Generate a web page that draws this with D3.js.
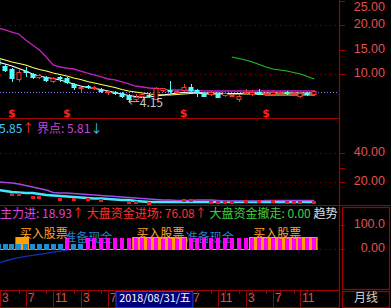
<!DOCTYPE html>
<html><head><meta charset="utf-8">
<script src="https://cdn.jsdelivr.net/npm/d3@7"></script>
<style>body{margin:0;background:#000;}svg{display:block;}</style>
</head><body>
<svg id="c" width="391" height="308"></svg>
<script>
// ---- data ----
const openP  = [12.86,11.63,11.02,8.78,10.61,10.00,9.18,9.39,8.37,9.39,9.18,7.96,7.14,7.55,6.94,6.94,6.12,6.33,6.12,5.71,4.69,5.31,5.71,4.69,6.53,6.73,6.33,6.53,7.35,6.73,6.12,5.71,5.92,5.51,5.51,4.69,6.12,5.71,6.33,5.71,5.71,5.92,6.33,5.71,5.31,6.12,5.71];
const highP  = [13.27,12.04,11.22,11.02,11.43,10.20,10.00,9.59,9.39,9.59,9.39,8.16,7.35,7.76,7.55,7.14,6.53,6.53,6.33,5.92,5.92,6.12,6.12,7.35,7.14,8.57,6.73,7.96,7.96,6.94,6.33,6.53,6.12,6.33,5.92,5.71,6.94,6.73,6.94,6.33,6.53,6.53,6.53,6.33,6.33,6.33,6.73];
const lowP   = [11.63,10.41,8.37,8.37,9.39,8.98,8.98,8.37,8.16,8.37,7.96,6.73,6.33,6.94,6.73,6.12,5.71,5.71,5.10,4.15,4.29,5.10,5.10,4.69,6.33,6.12,6.12,6.33,6.33,5.31,5.31,5.51,5.10,5.31,5.31,4.29,5.92,5.51,5.71,5.71,5.51,5.71,5.71,5.51,5.10,5.51,5.51];
const closeP = [11.84,10.61,8.98,10.41,10.20,9.18,9.80,8.57,9.18,8.98,8.16,7.14,7.35,7.14,7.35,6.33,6.53,5.92,5.31,4.69,5.31,5.92,5.31,7.14,7.14,6.33,6.53,7.35,6.53,6.12,5.31,6.33,5.10,6.12,5.71,5.51,6.33,6.33,5.71,6.12,6.33,6.33,5.92,6.12,6.12,5.71,6.53];
const maPurple = [19.39,18.98,18.57,18.16,16.94,15.92,14.90,13.47,11.84,11.43,11.22,11.02,10.61,10.20,9.80,9.39,8.98,8.78,8.37,7.96,7.55,7.35,7.14,7.04,6.94,6.73,6.73,6.73,6.63,6.63,6.53,6.53,6.53,6.53,6.53,6.53,6.53,6.53,6.53,6.53,6.53,6.53,6.53,6.53,6.53,6.53,6.53];
const maYellow = [13.27,12.86,12.45,12.14,11.84,11.33,10.92,10.61,10.20,9.90,9.59,9.18,8.88,8.47,8.16,7.86,7.55,7.24,6.84,6.53,6.33,6.12,5.92,5.82,5.71,5.71,5.82,5.92,6.02,6.12,5.92,5.92,5.92,5.92,5.92,5.92,5.92,5.92,5.92,5.71,5.71,5.71,5.71,5.71,5.71,5.71,5.71];
const maWhite  = [12.45,12.04,11.63,11.12,10.61,10.00,9.59,9.29,9.08,8.78,8.37,7.96,7.55,7.24,7.04,6.84,6.53,6.22,5.92,5.61,5.41,5.20,5.31,5.51,5.71,5.92,6.12,6.22,6.33,6.22,6.12,6.12,6.12,6.02,6.02,6.02,6.12,6.12,6.12,6.12,6.12,6.12,6.12,6.12,6.12,6.12,6.12];
const maGreen  = [null,null,null,null,null,null,null,null,null,null,null,null,null,null,null,null,null,null,null,null,null,null,null,null,null,null,null,null,null,null,null,null,null,null,13.47,13.16,12.86,12.45,11.94,11.43,11.02,10.82,10.61,10.31,10.00,9.49,8.98];
const refLevel = 6.3;
const lowMark = {i:19, v:4.15};
const sellIdx = [2,10,27,39];
const priceTicks = [25,20,15,10];
const priceGrid = [20,10];

const midPurple = [20.0,19.7,19.3,18.6,17.6,16.6,15.5,14.5,12.8,12.4,12.4,12.1,11.7,11.4,11.0,10.7,10.3,10.0,9.7,9.3,9.0,8.6,8.3,7.9,7.6,7.6,7.2,7.2,7.2,7.6,7.6,7.6,7.2,6.9,6.9,6.9,6.9,6.9,6.9,7.2,7.2,7.2,7.2,7.2,7.2,7.2,7.2];
const midCyan   = [14.5,13.8,13.1,12.8,12.4,12.4,11.7,11.0,10.7,10.3,10.0,9.7,9.3,9.0,8.6,8.6,8.3,7.9,7.6,7.6,6.9,6.6,6.2,6.2,6.2,6.2,6.2,6.2,6.2,6.2,6.2,6.2,6.2,6.2,6.2,6.2,6.2,6.2,6.2,6.2,6.2,6.2,6.2,6.2,6.2,6.2,6.2];
const midRed    = [null,null,11.7,11.7,null,9.7,9.7,null,null,8.3,null,8.3,null,8.3,null,7.6,null,null,null,6.2,6.2,null,5.5,null,null,null,null,7.6,7.6,null,null,6.2,6.2,6.2,6.2,null,7.2,null,7.2,null,7.2,null,6.2,6.2,6.2,null,6.2];
const midTicks = [40,20];

const barType = ["c","c","c","c","c","c","c","c","c","c","m","c","c","m","m","m","m","m","m","m","m","m","m","m","m","m","m","m","m","m","m","m","m","m","m","m","m","m","m","m","m","m","m","m","m","m","m"];
const barTop = {c:21, m:46};
const barBase = -4;
const buyStart = [3,20,37];
const buyEnd   = [4,27,46];
const buyTop = 50;
const prepIdx = [9.6,27.3];
const botBlue = [-58,-50,-42,-36,-31,-27,-22,-18,-13,-9,-6];
const botTicks = [100,0];
const botTickLabels = ["100.0","0.00"];

const monthLabelIdx = [0,4,8,12,16,20,24,28,32,36,40,44];
const monthLabels = ["3","7","11","3","7","11","3","7","11","3","7","11"];
const cursorDate = "2018/08/31/五";
const cursorFrom = 17, cursorTo = 28;

// ---- layout ----
const W=391,H=308, PR=339;
const RED="#a00000", AX="#e05050", FONT="'Noto Sans CJK SC','Noto Sans',sans-serif", NUMF="'Liberation Sans',Arial,sans-serif";
const svg=d3.select("#c");
svg.append("rect").attr("width",W).attr("height",H).attr("fill","#000");
const defs=svg.append("defs");
defs.append("clipPath").attr("id","cp1").append("rect").attr("x",0).attr("y",0).attr("width",PR).attr("height",118);
defs.append("clipPath").attr("id","cpAll").append("rect").attr("x",0).attr("y",0).attr("width",PR).attr("height",290);

const n=openP.length;
const x=d3.scalePoint().domain(d3.range(n)).range([-1.8,314.2]);
const step=x.step();
const xf=v=>x(0)+v*step; // fractional index position
const y1=d3.scaleLinear().domain([10,20]).range([74,25]);
const y2=d3.scaleLinear().domain([20,40]).range([182,153]);
const y3=d3.scaleLinear().domain([0,100]).range([249,225]);

// grids
const g=svg.append("g").attr("clip-path","url(#cpAll)");
priceGrid.forEach(v=>g.append("line").attr("x1",0).attr("x2",PR).attr("y1",Math.round(y1(v))+.5).attr("y2",Math.round(y1(v))+.5).attr("stroke",RED).attr("stroke-dasharray","1,4"));
midTicks.forEach(v=>g.append("line").attr("x1",0).attr("x2",PR).attr("y1",Math.round(y2(v))+.5).attr("y2",Math.round(y2(v))+.5).attr("stroke",RED).attr("stroke-dasharray","1,4"));
g.append("line").attr("x1",0).attr("x2",PR).attr("y1",Math.round(y3(0))+.5).attr("y2",Math.round(y3(0))+.5).attr("stroke",RED).attr("stroke-dasharray","1,4");

// top panel
const t=svg.append("g").attr("clip-path","url(#cp1)");
t.append("line").attr("x1",0).attr("x2",PR).attr("y1",Math.round(y1(refLevel))+.5).attr("y2",Math.round(y1(refLevel))+.5).attr("stroke","#8f70ff").attr("stroke-dasharray","1,2");
const line1=d3.line().defined(d=>d!=null).x((d,i)=>x(i)).y(d=>y1(d));
t.append("path").attr("d",line1(maPurple)).attr("fill","none").attr("stroke","#c020c0").attr("stroke-width",1.3);
t.append("path").attr("d",line1(maYellow)).attr("fill","none").attr("stroke","#ffff50").attr("stroke-width",1.2);
t.append("path").attr("d",line1(maWhite)).attr("fill","none").attr("stroke","#ffffff").attr("stroke-width",1.2);
t.append("path").attr("d",line1(maGreen)).attr("fill","none").attr("stroke","#20c020").attr("stroke-width",1.2);
const cw=5;
d3.range(n).forEach(i=>{
  const up=closeP[i]>=openP[i];
  const col=up?"#ff3232":"#54fcfc";
  const cx=Math.round(x(i))+.5;
  const top=Math.round(y1(Math.max(openP[i],closeP[i])));
  const bot=Math.round(y1(Math.min(openP[i],closeP[i])));
  t.append("line").attr("x1",cx).attr("x2",cx).attr("y1",y1(highP[i])).attr("y2",y1(lowP[i])).attr("stroke",col);
  if(up){
    t.append("rect").attr("x",cx-cw/2).attr("y",top+.5).attr("width",cw-1).attr("height",Math.max(1,bot-top-1)).attr("fill","#000").attr("stroke",col);
  } else {
    t.append("rect").attr("x",cx-cw/2-.5).attr("y",top).attr("width",cw).attr("height",Math.max(1,bot-top)).attr("fill",col);
  }
});
t.append("text").attr("x",x(lowMark.i)-1).attr("y",y1(lowMark.v)+1.5).attr("dominant-baseline","middle").attr("fill","#c8c8c8").attr("font-family",FONT).attr("font-size",12).text("←"+lowMark.v.toFixed(2));
sellIdx.forEach(i=>t.append("text").attr("x",x(i)).attr("y",117).attr("text-anchor","middle").attr("fill","#ff2020").attr("font-family","DejaVu Sans").attr("font-weight","bold").attr("font-size",11).text("$"));

// middle panel
const m=svg.append("g").attr("clip-path","url(#cpAll)");
const line2=d3.line().x((d,i)=>x(i)).y(d=>y2(d));
m.append("path").attr("d",line2(midCyan)).attr("fill","none").attr("stroke","#40e8ff").attr("stroke-width",2.5);
m.append("path").attr("d",line2(midPurple)).attr("fill","none").attr("stroke","#a048e0").attr("stroke-width",1.5);
midRed.forEach((v,i)=>{ if(v!=null) m.append("rect").attr("x",Math.round(x(i))-2).attr("y",Math.round(y2(v))-1).attr("width",4).attr("height",3).attr("fill","#e02020"); });

// bottom panel
const b=svg.append("g").attr("clip-path","url(#cpAll)");
b.append("line").attr("x1",0).attr("x2",x(n-1)+step/2).attr("y1",Math.round(y3(0))+.5).attr("y2",Math.round(y3(0))+.5).attr("stroke","#b0b0b0");
buyStart.forEach((s,k)=>b.append("rect").attr("x",x(s)-step/2).attr("y",y3(buyTop)).attr("width",x(buyEnd[k])-x(s)+step).attr("height",y3(barBase)-y3(buyTop)).attr("fill","#ffa000"));
prepIdx.forEach(i=>b.append("text").attr("x",xf(i)).attr("y",242).attr("fill","#2a7fc8").attr("font-family",FONT).attr("font-size",12).text("准备现金"));
barType.forEach((tp,i)=>{
  const w=tp==="c"?5:4;
  b.append("rect").attr("x",Math.round(x(i)-w/2)).attr("y",Math.round(y3(barTop[tp]))).attr("width",w).attr("height",Math.round(y3(barBase))-Math.round(y3(barTop[tp]))).attr("fill",tp==="c"?"#1e8ed0":"#ff00ff");
});
b.append("path").attr("d",d3.line().x((d,i)=>x(i)).y(d=>y3(d))(botBlue)).attr("fill","none").attr("stroke","#1030c0").attr("stroke-width",1.3);
buyStart.forEach(s=>b.append("text").attr("x",x(s)+1).attr("y",238).attr("fill","#ffa030").attr("font-family",FONT).attr("font-size",12).text("买入股票"));

// label rows
const r1=svg.append("text").attr("x",-1).attr("y",133).attr("font-family",FONT).attr("font-size",12).attr("clip-path","url(#cpAll)");
[["5.85","#40c8ff"],["↑","#ff3030"],[" 界点: 5.81","#d040d0"],["↓","#40c8ff"]].forEach(([s,c])=>r1.append("tspan").attr("fill",c).text(s));
const r2=svg.append("text").attr("x",0).attr("y",218).attr("font-family",FONT).attr("font-size",12).attr("clip-path","url(#cpAll)");
[["主力进: 18.93","#e040e0"],["↑","#ff3030"],[" 大盘资金进场: 76.08","#ff3030"],["↑","#ff3030"],[" 大盘资金撤走: 0.00","#40d040"],[" 趋势","#e0e0e0"]].forEach(([s,c])=>r2.append("tspan").attr("fill",c).text(s));

// frame lines
const fl=(x1,y1_,x2,y2_)=>svg.append("line").attr("x1",x1).attr("y1",y1_).attr("x2",x2).attr("y2",y2_).attr("stroke",RED).attr("stroke-width",1.2);
fl(0,118.5,PR,118.5);
fl(0,205.5,W,205.5);
fl(0,290.5,PR,290.5);
fl(0,307.5,PR,307.5);
fl(PR+.5,0,PR+.5,H);
svg.append("rect").attr("x",342.5).attr("y",207.5).attr("width",47).attr("height",82).attr("fill","none").attr("stroke",RED).attr("stroke-width",1.2);
svg.append("rect").attr("x",342.5).attr("y",291.5).attr("width",47).attr("height",16).attr("fill","none").attr("stroke",RED).attr("stroke-width",1.2);

// right axis
const tick=(yy,label,ly)=>{
  svg.append("line").attr("x1",PR).attr("x2",PR+6).attr("y1",Math.round(yy)+.5).attr("y2",Math.round(yy)+.5).attr("stroke",RED);
  if(label) svg.append("text").attr("x",385).attr("y",ly==null?yy:ly).attr("dominant-baseline","middle").attr("text-anchor","end").attr("fill",AX).attr("font-family",NUMF).attr("font-size",12.5).text(label);
};
priceTicks.forEach(v=>tick(y1(v),v.toFixed(2),Math.max(8,y1(v))));
midTicks.forEach(v=>tick(y2(v),v.toFixed(2)));
tick(y2(30),null);
botTicks.forEach((v,k)=>tick(y3(v),botTickLabels[k]));

// date axis
const bx0=x(cursorFrom)+1, bx1=x(cursorTo)+step*0.35;
monthLabelIdx.forEach((i,k)=>{
  const xx=Math.max(0,Math.round(x(i)))+.5;
  svg.append("line").attr("x1",xx).attr("x2",xx).attr("y1",291).attr("y2",307).attr("stroke",RED);
  if(xx+2>=bx0-4 && xx+2<=bx1) return;
  svg.append("text").attr("x",xx+1.5).attr("y",299).attr("dominant-baseline","middle").attr("fill",AX).attr("font-family",NUMF).attr("font-size",12).text(monthLabels[k]);
});
d3.range(n).filter(i=>i%4===1||i%4===3).forEach(i=>{
  const xx=Math.round(x(i))+.5;
  svg.append("line").attr("x1",xx).attr("x2",xx).attr("y1",291).attr("y2",294).attr("stroke",RED);
});
svg.append("rect").attr("x",bx0).attr("y",291.5).attr("width",bx1-bx0).attr("height",16).attr("fill","#000078").attr("stroke","#3838c8");
svg.append("text").attr("x",(bx0+bx1)/2+0.5).attr("y",299.5).attr("dominant-baseline","middle").attr("text-anchor","middle").attr("fill","#ffffff").attr("font-family",FONT).attr("font-size",10.8).text(cursorDate);
svg.append("text").attr("x",366).attr("y",299).attr("dominant-baseline","middle").attr("text-anchor","middle").attr("fill","#d0d0d0").attr("font-family",FONT).attr("font-size",12).text("月线");
</script>
</body></html>
